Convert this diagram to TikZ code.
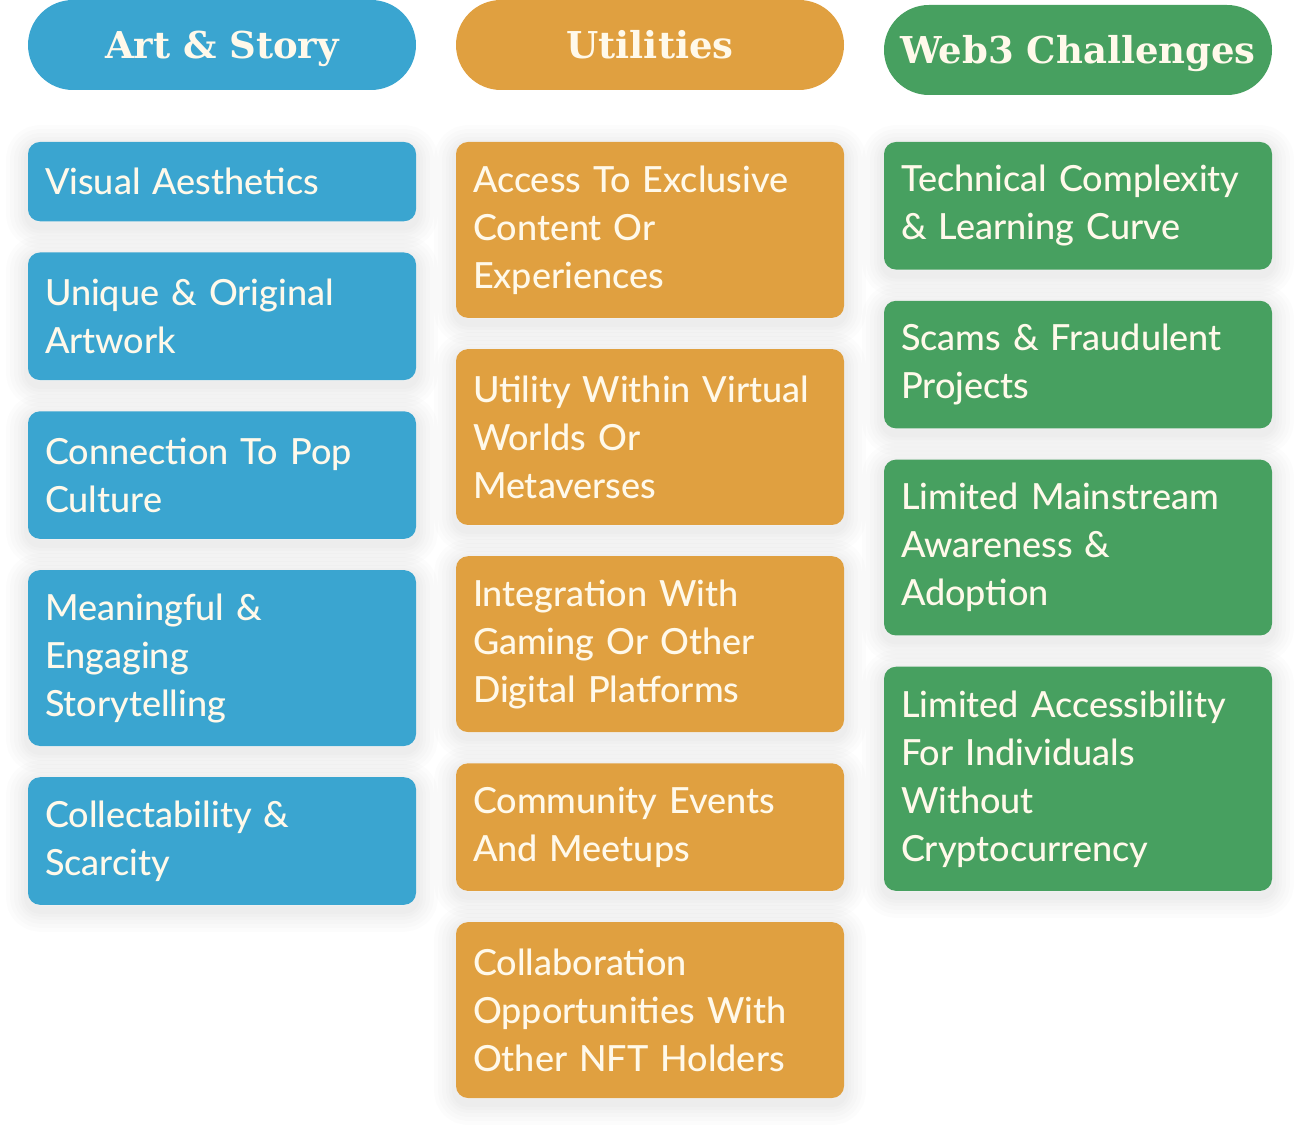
\documentclass[tikz,border=0pt]{standalone}
\usepackage{fontspec}
\setmainfont{Lato}[UprightFont=* Medium]
\newfontfamily\headfont{DejaVu Serif}
\usetikzlibrary{positioning}

\definecolor{artblue}{HTML}{3AA5D0}
\definecolor{utilorange}{HTML}{E0A040}
\definecolor{webgreen}{HTML}{47A060}
\definecolor{cream}{HTML}{FFF9EA}

\tikzset{
  halo/.style={preaction={draw=black, draw opacity=.011, line width=#1, line join=round,
      transform canvas={yshift=-2.5pt}}},
  glow/.style={halo=22pt, halo=18pt, halo=14pt, halo=10pt, halo=7pt, halo=4pt},
  card/.style={rectangle, rounded corners=6pt, text=cream, anchor=north,
    text width=177pt, align=left, inner xsep=8.5pt, outer sep=0pt,
    font=\fontsize{18}{24}\selectfont, glow},
  lines/.style={minimum height=15.5pt+24.15pt*#1},
  heading/.style={rectangle, rounded corners=22.5pt, minimum width=194pt,
    minimum height=45pt, text height=13.5pt, text depth=0pt, text=cream,
    font=\headfont\bfseries\fontsize{18.5}{20}\selectfont},
}

\begin{document}
\begin{tikzpicture}[x=0.5pt, y=-0.5pt, node distance=15.6pt]
  \useasboundingbox (0,0) rectangle (1300,1127);

  % headings
  \node[heading, fill=artblue] (art) at (222,45) {Art \& Story};
  \node[heading, fill=utilorange] (util) at (650,45) {Utilities};
  \node[heading, fill=webgreen] (web) at (1078,50) {Web3 Challenges};

  % art & story column
  \node[card, fill=artblue, lines=1] (visual) at (222,142) {Visual Aesthetics};
  \node[card, fill=artblue, lines=2, below=of visual] (unique) {Unique \& Original\\Artwork};
  \node[card, fill=artblue, lines=2, below=of unique] (popculture) {Connection To Pop\\Culture};
  \node[card, fill=artblue, lines=3, below=of popculture] (story) {Meaningful \&\\Engaging\\Storytelling};
  \node[card, fill=artblue, lines=2, below=of story] (scarcity) {Collectability \&\\Scarcity};

  % utilities column
  \node[card, fill=utilorange, lines=3] (access) at (650,142) {Access To Exclusive\\Content Or\\Experiences};
  \node[card, fill=utilorange, lines=3, below=of access] (virtual) {Utility Within Virtual\\Worlds Or\\Metaverses};
  \node[card, fill=utilorange, lines=3, below=of virtual] (gaming) {Integration With\\Gaming Or Other\\Digital Platforms};
  \node[card, fill=utilorange, lines=2, below=of gaming] (events) {Community Events\\And Meetups};
  \node[card, fill=utilorange, lines=3, below=of events] (collab) {Collaboration\\Opportunities With\\Other NFT Holders};

  % web3 challenges column
  \node[card, fill=webgreen, lines=2] (technical) at (1078,142) {Technical Complexity\\\& Learning Curve};
  \node[card, fill=webgreen, lines=2, below=of technical] (scams) {Scams \& Fraudulent\\Projects};
  \node[card, fill=webgreen, lines=3, below=of scams] (awareness) {Limited Mainstream\\Awareness \&\\Adoption};
  \node[card, fill=webgreen, lines=4, below=of awareness] (accessibility) {Limited Accessibility\\For Individuals\\Without\\Cryptocurrency};
\end{tikzpicture}
\end{document}
